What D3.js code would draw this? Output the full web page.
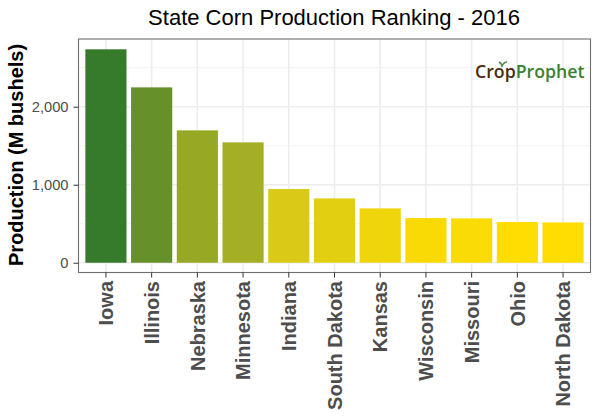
<!DOCTYPE html>
<html lang="en">
<head>
    <meta charset="UTF-8">
    <title>State Corn Production Ranking - 2016</title>
    <script src="https://d3js.org/d3.v7.min.js"></script>
    <style>
        html, body { margin: 0; padding: 0; background: #fff; }
        svg { display: block; }
        text { font-family: "Liberation Sans", Arial, sans-serif; }
    </style>
</head>
<body>
<script>
    var states = ['Iowa','Illinois','Nebraska','Minnesota','Indiana','South Dakota','Kansas','Wisconsin','Missouri','Ohio','North Dakota'];
    var production = [2736,2248,1697,1543,945,825,697,573,569,522,517];
    var majorTicks = [0,1000,2000];
    var minorTicks = [500,1500,2500];

    var width = 600, height = 420;
    var left = 78.5, right = 590.5, top_ = 39, bottom = 272.5;

    var svg = d3.select('body').append('svg')
        .attr('width',width)
        .attr('height',height);

    var x = d3.scaleBand()
        .domain(states)
        .range([left,right])
        .paddingInner(0.1)
        .paddingOuter(0.15);

    var y = d3.scaleLinear()
        .domain([-125,2868])
        .range([bottom,top_]);

    // ggplot style gradient, low value yellow to high value green
    var fill = d3.scaleLinear()
        .domain([d3.min(production),d3.max(production)])
        .range(['#ffdd00','#367a2b'])
        .interpolate(d3.interpolateLab);

    // grid
    svg.selectAll('.minor').data(minorTicks).enter().append('line')
        .attr('x1',left).attr('x2',right)
        .attr('y1',y).attr('y2',y)
        .attr('stroke','#f3f3f3').attr('stroke-width',1.2);

    svg.selectAll('.major').data(majorTicks).enter().append('line')
        .attr('x1',left).attr('x2',right)
        .attr('y1',y).attr('y2',y)
        .attr('stroke','#ededed').attr('stroke-width',1.6);

    svg.selectAll('.vgrid').data(states).enter().append('line')
        .attr('x1',function (d) { return x(d)+x.bandwidth()/2; })
        .attr('x2',function (d) { return x(d)+x.bandwidth()/2; })
        .attr('y1',top_).attr('y2',bottom)
        .attr('stroke','#ededed').attr('stroke-width',1.6);

    // bars
    svg.selectAll('.bar').data(states).enter().append('rect')
        .attr('x',function (d) { return x(d); })
        .attr('width',x.bandwidth())
        .attr('y',function (d,i) { return y(production[i]); })
        .attr('height',function (d,i) { return y(0)-y(production[i]); })
        .attr('fill',function (d,i) { return fill(production[i]); });

    // logo
    var logo = svg.append('text')
        .attr('x',475).attr('y',77.5)
        .attr('font-size',17.7)
        .attr('font-weight',600)
        .style('font-family','"Open Sans", sans-serif');
    logo.append('tspan').attr('fill','#4a2c0f').text('Crop');
    logo.append('tspan').attr('fill','#3c8033').text('Prophet');
    svg.append('path')
        .attr('d','M502 67 C502 64 501 63 499 62 M502 66 C503 64 505 62 507 62')
        .attr('fill','none')
        .attr('stroke','#4f8f45')
        .attr('stroke-width',1.5);

    // panel border
    svg.append('rect')
        .attr('x',left).attr('y',top_)
        .attr('width',right-left).attr('height',bottom-top_)
        .attr('fill','none')
        .attr('stroke','#6e6e6e')
        .attr('stroke-width',1.1);

    // axes
    var xaxis = d3.axisBottom(x).tickSize(5).tickPadding(3);
    var yaxis = d3.axisLeft(y)
        .tickValues(majorTicks)
        .tickSize(5)
        .tickPadding(5)
        .tickFormat(d3.format(','));

    var gx = svg.append('g')
        .attr('transform','translate(0,'+bottom+')')
        .call(xaxis);
    gx.select('.domain').remove();
    gx.selectAll('line').attr('stroke','#333').attr('stroke-width',1);
    gx.selectAll('text')
        .attr('transform','rotate(-90)')
        .attr('x',-8.5)
        .attr('y',0)
        .attr('dy','0.36em')
        .attr('text-anchor','end')
        .attr('font-size',20)
        .attr('font-weight','bold')
        .attr('fill','#4d4d4d')
        .style('font-family','"Liberation Sans", Arial, sans-serif');

    var gy = svg.append('g')
        .attr('transform','translate('+left+',0)')
        .call(yaxis);
    gy.select('.domain').remove();
    gy.selectAll('line').attr('stroke','#333').attr('stroke-width',1);
    gy.selectAll('text')
        .attr('font-size',14.7)
        .attr('fill','#4d4d4d')
        .style('font-family','"Liberation Sans", Arial, sans-serif');

    // titles
    svg.append('text')
        .attr('x',334).attr('y',25)
        .attr('text-anchor','middle')
        .attr('font-size',22)
        .attr('fill','#000')
        .text('State Corn Production Ranking - 2016');

    svg.append('text')
        .attr('transform','translate(23,155) rotate(-90)')
        .attr('text-anchor','middle')
        .attr('font-size',20)
        .attr('font-weight','bold')
        .attr('fill','#000')
        .text('Production (M bushels)');
</script>
</body>
</html>
